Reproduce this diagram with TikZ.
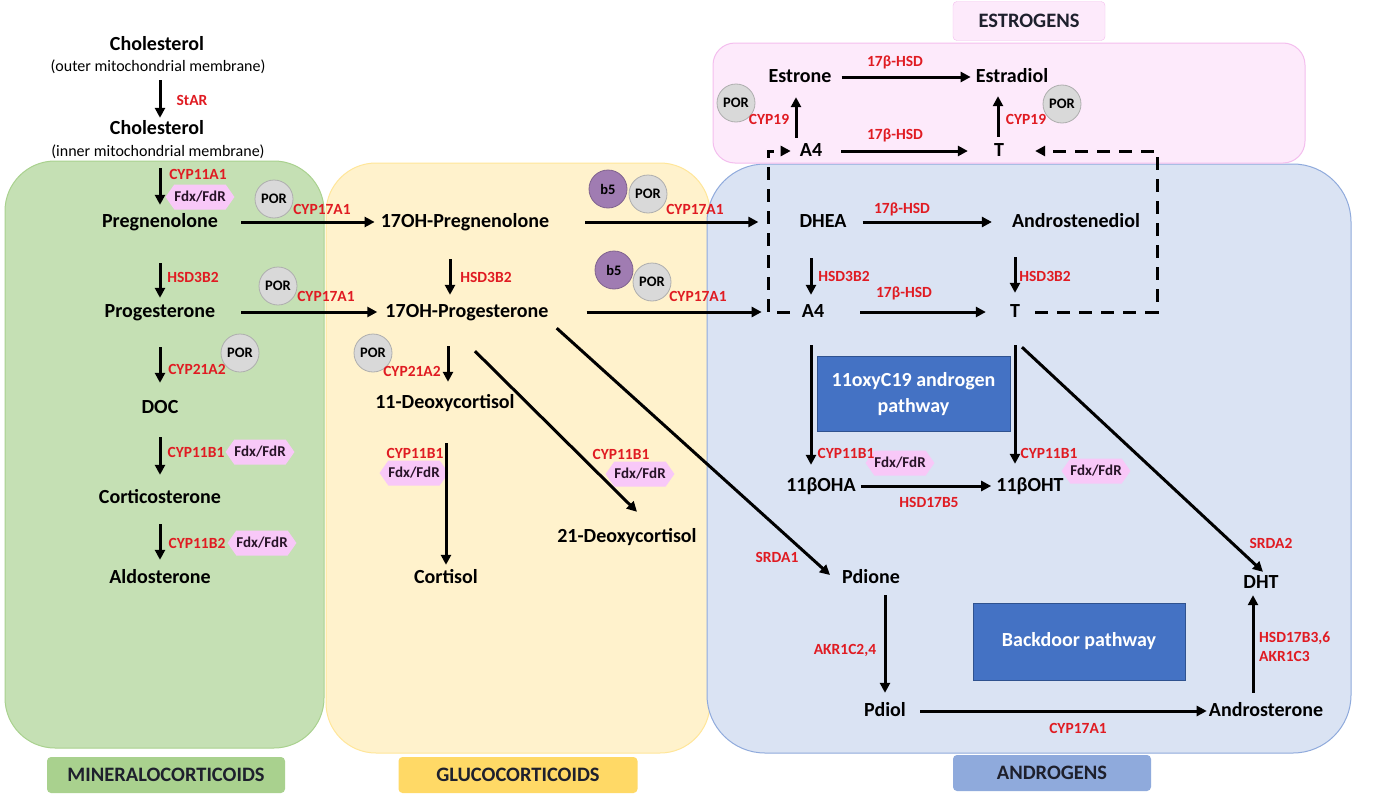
\documentclass[tikz,border=0pt]{standalone}
\usepackage{fontspec}
\setmainfont{Carlito}
\usetikzlibrary{shapes.symbols,arrows.meta}
\definecolor{enzred}{RGB}{224,27,34}
\definecolor{greenfill}{RGB}{197,224,180}
\definecolor{greenline}{RGB}{169,209,142}
\definecolor{yellowfill}{RGB}{255,242,204}
\definecolor{yellowline}{RGB}{255,230,153}
\definecolor{bluefill}{RGB}{218,227,243}
\definecolor{blueline}{RGB}{143,170,220}
\definecolor{pinkfill}{RGB}{253,234,251}
\definecolor{pinkline}{RGB}{244,190,238}
\definecolor{porgray}{RGB}{217,217,217}
\definecolor{bfive}{RGB}{160,124,178}
\definecolor{fdxpink}{RGB}{248,200,248}
\definecolor{fdxtext}{RGB}{40,20,40}
\definecolor{taggreen}{RGB}{169,209,142}
\definecolor{tagyellow}{RGB}{255,217,102}
\definecolor{tagblue}{RGB}{143,170,220}
\definecolor{tagtext}{RGB}{30,32,45}
\definecolor{pathblue}{RGB}{68,114,196}
\definecolor{pathline}{RGB}{47,82,143}
\tikzset{
  metab/.style={font=\fontsize{20}{24}\selectfont\bfseries, inner sep=1pt, text height=14pt, text depth=4pt},
  memb/.style={font=\fontsize{16}{19}\selectfont, inner sep=1pt, text height=12pt, text depth=4pt},
  enz/.style={text=enzred, font=\fontsize{15.5}{19}\selectfont\bfseries, inner sep=0pt},
  cof/.style={circle, draw=#1!80!black, line width=0.8pt, fill=#1, minimum size=38pt, inner sep=0pt, font=\fontsize{14.5}{16}\selectfont\bfseries},
  fdx/.style={signal, signal to=west and east, signal pointer angle=110, fill=fdxpink, minimum width=60pt, minimum height=25pt, inner sep=0pt, text=fdxtext, font=\fontsize{15}{17}\selectfont\bfseries},
  conv/.style={-{Triangle[length=10pt,width=10pt]}, line width=3pt},
  dashconv/.style={conv, dash pattern=on 13pt off 9pt},
  gapped/.style 2 args={shorten <=#1pt, shorten >=#2pt},
  region/.style 2 args={fill=#1, draw=#2, line width=1pt},
  tag/.style={fill=#1, rounded corners=4pt, minimum height=36pt, inner sep=0pt, text=tagtext, font=\fontsize{20.5}{24}\selectfont\bfseries},
  pathbox/.style={fill=pathblue, draw=pathline, line width=1pt, text=white, align=center, font=\fontsize{20}{26}\selectfont\bfseries}
}
\begin{document}
\begin{tikzpicture}[x=1pt, y=-1pt]
\fill[white] (0,0) rectangle (1390,803);
\useasboundingbox (0,0) rectangle (1390,803);

% compartments
\draw[region={greenfill}{greenline}, rounded corners=50pt] (5,161) rectangle (324,748);
\draw[region={yellowfill}{yellowline}, rounded corners=50pt] (326,163) rectangle (710,753);
\draw[region={bluefill}{blueline}, rounded corners=58pt] (707,164) rectangle (1351,753);
\draw[region={pinkfill}{pinkline}, rounded corners=22pt] (713,43) rectangle (1305,163);

\node[tag=taggreen, minimum width=238pt] (mineral) at (166,775) {MINERALOCORTICOIDS};
\node[tag=tagyellow, minimum width=239pt] (gluco) at (518,775) {GLUCOCORTICOIDS};
\node[tag=tagblue, minimum width=198pt] (andtag) at (1052,773) {ANDROGENS};
\node[tag=pinkfill, draw=pinkline, minimum width=152pt, minimum height=39pt] (esttag) at (1029,21) {ESTROGENS};

\node[pathbox, minimum width=193pt, minimum height=75pt] (oxybox) at (913.5,394) {11oxyC19 androgen\\pathway};
\node[pathbox, minimum width=212pt, minimum height=77pt] (backbox) at (1079,641.5) {Backdoor pathway};

% cofactors
\node[cof=porgray] (por1) at (274,199) {POR};
\node[cof=porgray] (por2) at (278,286) {POR};
\node[cof=porgray] (por3) at (240,353) {POR};
\node[cof=porgray] (por4) at (373,353) {POR};
\node[cof=bfive] (b5a) at (608,189) {b5};
\node[cof=porgray] (por5) at (648,194) {POR};
\node[cof=bfive] (b5b) at (614,270) {b5};
\node[cof=porgray] (por6) at (652,282) {POR};
\node[cof=porgray] (por7) at (736,103) {POR};
\node[cof=porgray] (por8) at (1062,104) {POR};

\node[fdx] (fdx1) at (200,197) {Fdx/FdR};
\node[fdx] (fdx2) at (260,452) {Fdx/FdR};
\node[fdx] (fdx3) at (262,543) {Fdx/FdR};
\node[fdx] (fdx4) at (414,473) {Fdx/FdR};
\node[fdx] (fdx5) at (640,474) {Fdx/FdR};
\node[fdx] (fdx6) at (900,463) {Fdx/FdR};
\node[fdx] (fdx7) at (1096,471) {Fdx/FdR};

% steroids
\node[metab] (chol1) at (157,45) {Cholesterol};
\node[memb] (chol1m) at (158,67) {(outer mitochondrial membrane)};
\node[metab] (chol2) at (157,129) {Cholesterol};
\node[memb] (chol2m) at (158,152) {(inner mitochondrial membrane)};
\node[metab] (preg) at (160,222) {Pregnenolone};
\node[metab] (prog) at (160,312) {Progesterone};
\node[metab] (doc) at (160,408) {DOC};
\node[metab] (cortico) at (160,498) {Corticosterone};
\node[metab] (aldo) at (160,578) {Aldosterone};
\node[metab] (ohpreg) at (465,222) {17OH-Pregnenolone};
\node[metab] (ohprog) at (467,312) {17OH-Progesterone};
\node[metab] (deoxy) at (445,403) {11-Deoxycortisol};
\node[metab] (cortisol) at (446,578) {Cortisol};
\node[metab] (deoxyb) at (627,537) {21-Deoxycortisol};
\node[metab] (estrone) at (800,77) {Estrone};
\node[metab] (estradiol) at (1012,77) {Estradiol};
\node[metab] (a4t) at (811,151) {A4};
\node[metab] (tt) at (999,151) {T};
\node[metab] (dhea) at (823,222) {DHEA};
\node[metab] (adiol) at (1076,222) {Androstenediol};
\node[metab] (a4b) at (813,312) {A4};
\node[metab] (tb) at (1015,312) {T};
\node[metab] (oha) at (821,486) {11βOHA};
\node[metab] (oht) at (1030,486) {11βOHT};
\node[metab] (pdione) at (871,578) {Pdione};
\node[metab] (pdiol) at (885,711) {Pdiol};
\node[metab] (andro) at (1266,711) {Androsterone};
\node[metab] (dht) at (1261,583) {DHT};

% conversions
\draw[conv, gapped={4}{1}] (chol1m.south -| preg) -- (chol2.north -| preg);
\draw[conv, gapped={7}{7}] (chol2m.south -| preg) -- (preg.north);
\draw[conv, gapped={31}{4}] (preg.south) -- (prog.north);
\draw[conv, gapped={25}{15}] (prog.south) -- (doc.north);
\draw[conv, gapped={19}{13}] (doc.south) -- (cortico.north);
\draw[conv, gapped={16}{8}] (cortico.south) -- (aldo.north);
\draw[conv, gapped={22}{5}] (preg) -- (ohpreg);
\draw[conv, gapped={25}{7}] (prog) -- (ohprog);
\draw[conv, gapped={27}{7}] ([xshift=-15pt]ohpreg.south) -- ([xshift=-15pt]ohpreg.south |- ohprog.north);
\draw[conv, gapped={24}{11}] ([xshift=-19pt]ohprog.south) -- ([xshift=-19pt]ohprog.south |- deoxy.north);
\draw[conv, gapped={30}{3}] (deoxy.south -| cortisol) -- (cortisol.north);
\draw[conv] ([shift={(8pt,-29pt)}]ohprog.south) -- ([shift={(10pt,15pt)}]deoxyb.north);
\draw[conv] ([shift={(7pt,-6pt)}]ohprog.south east) -- ([shift={(-11pt,3pt)}]pdione.west);
\draw[conv, gapped={35}{40}] (ohpreg) -- (dhea);
\draw[conv, gapped={37}{39}] (ohprog) -- (a4b);
\draw[conv, gapped={15}{19}] (dhea) -- (adiol);
\draw[conv, gapped={35}{23}] (a4b) -- (tb);
\draw[conv, gapped={26}{7}] ([xshift=-12pt]dhea.south) -- ([xshift=-12pt]dhea.south |- a4b.north);
\draw[conv, gapped={25}{9}] (adiol.south -| tb) -- (tb.north);
\draw[conv, gapped={23}{11}] ([xshift=-2pt]a4b.south) -- ([xshift=-2pt]a4b.south |- oha.north);
\draw[conv, gapped={23}{12}] (tb.south) -- (tb.south |- oht.north);
\draw[conv, gapped={4}{4}] (oha) -- (oht);
\draw[conv] ([shift={(7pt,-25pt)}]tb.south) -- ([shift={(2pt,1pt)}]dht.north);
\draw[conv, gapped={7}{8}] (pdione.south -| pdiol) -- (pdiol.north);
\draw[conv, gapped={13}{1}] (pdiol) -- (andro);
\draw[conv, gapped={8}{2}] ([xshift=-13pt]andro.north) -- ([xshift=-13pt]andro.north |- dht.south);
\draw[conv, gapped={3}{10}] ([xshift=-4pt]estrone.south |- a4t.north) -- ([xshift=-4pt]estrone.south);
\draw[conv, gapped={4}{9}] ([xshift=-1pt]tt.north) -- ([xshift=-1pt]tt.north |- estradiol.south);
\draw[conv, gapped={9}{4}] (estrone) -- (estradiol);
\draw[conv, gapped={18}{25}] (a4t) -- (tt);

% T and A4 shuttle to the estrogen compartment
\coordinate (dashR) at (1157,230);
\coordinate (dashL) at (768,230);
\draw[dashconv, gapped={14}{30}] (tb.east) -- (tb.east -| dashR) -- (tt.east -| dashR) -- (tt.east);
\draw[dashconv, gapped={11}{8}] (a4b.west) -- (a4b.west -| dashL) -- (a4t.west -| dashL) -- (a4t.west);

% enzymes
\node[enz] (star) at (192,100) {StAR};
\node[enz] (cyp11a1) at (198,174) {CYP11A1};
\node[enz] (cyp17a) at (322,209) {CYP17A1};
\node[enz] (hsdl) at (193,277) {HSD3B2};
\node[enz] (cyp17b) at (326,296) {CYP17A1};
\node[enz] (cyp21l) at (197,369) {CYP21A2};
\node[enz] (cyp11b1l) at (196,452) {CYP11B1};
\node[enz] (cyp11b2l) at (197,543) {CYP11B2};
\node[enz] (hsdm) at (486,277) {HSD3B2};
\node[enz] (cyp21m) at (412,371) {CYP21A2};
\node[enz] (cyp11b1m) at (415,453) {CYP11B1};
\node[enz] (cyp11b1d) at (621,454) {CYP11B1};
\node[enz] (cyp17c) at (695,209) {CYP17A1};
\node[enz] (cyp17d) at (698,296) {CYP17A1};
\node[enz] (srda1) at (777,557) {SRDA1};
\node[enz] (hsd17t) at (895,62) {17β-HSD};
\node[enz] (cyp19l) at (769,119) {CYP19};
\node[enz] (cyp19r) at (1026,119) {CYP19};
\node[enz] (hsd17m) at (895,135) {17β-HSD};
\node[enz] (hsd17p) at (902,209) {17β-HSD};
\node[enz] (hsdr1) at (844,276) {HSD3B2};
\node[enz] (hsdr2) at (1045,276) {HSD3B2};
\node[enz] (hsd17q) at (904,293) {17β-HSD};
\node[enz] (cyp11b1r) at (846,453) {CYP11B1};
\node[enz] (cyp11b1s) at (1049,453) {CYP11B1};
\node[enz] (hsd17b5) at (929,502) {HSD17B5};
\node[enz] (srda2) at (1271,543) {SRDA2};
\node[enz] (akr24) at (845,650) {AKR1C2,4};
\node[enz] (cyp17e) at (1078,728) {CYP17A1};
\node[enz, align=left, anchor=west] (hsd3) at (1259,647) {HSD17B3,6\\AKR1C3};
\end{tikzpicture}
\end{document}
